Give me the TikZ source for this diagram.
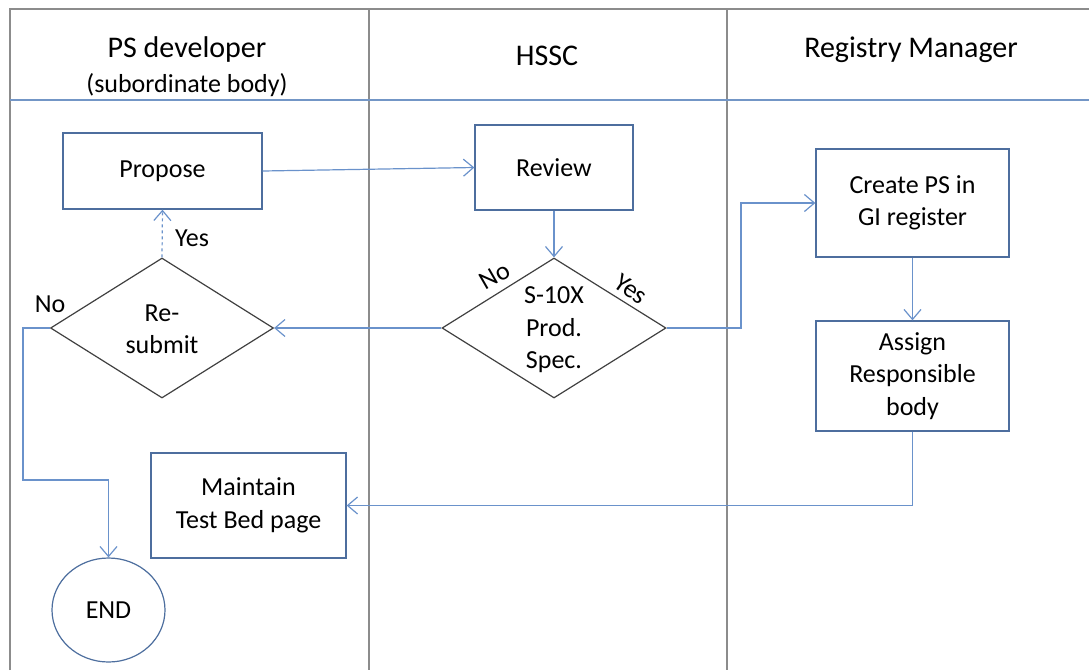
\documentclass[tikz,border=0pt]{standalone}
\usepackage{fontspec}
\setmainfont{Carlito}
\usetikzlibrary{shapes.geometric,arrows.meta}
\definecolor{boxc}{HTML}{4D6E9E}
\definecolor{linkc}{HTML}{6A92CB}
\definecolor{lanec}{HTML}{8C8C8C}
\definecolor{hdrc}{HTML}{7396C6}
\definecolor{diac}{HTML}{404040}
\begin{document}
\begin{tikzpicture}[x=1pt,y=-1pt,
  every node/.style={font=\fontsize{26}{32.5}\selectfont, text=black},
  hdr/.style={font=\fontsize{30}{36}\selectfont},
  box/.style={draw=boxc, line width=1.3pt, align=center, inner sep=0pt},
  dec/.style={draw=diac, line width=1.2pt, shape=diamond, inner sep=0pt},
  endc/.style={draw=boxc, line width=1.2pt, shape=ellipse, inner sep=0pt},
  link/.style={draw=linkc, line width=1.2pt, -{Straight Barb[length=10pt,width=17pt,line width=1.2pt]}},
  lane/.style={draw=lanec, line width=1.3pt},
  lbl/.style={inner sep=0pt}]
\useasboundingbox (0,0) rectangle (1089,670);
% swimlanes
\draw[lane] (10,670) -- (10,9) -- (1089,9);
\draw[lane] (369,9) -- (369,670);
\draw[lane] (727,9) -- (727,670);
\draw[draw=hdrc, line width=1.3pt] (10,100) -- (1089,100);
\node[hdr] (h1) at (187,49) {PS developer};
\node (h1b) at (187,85) {(subordinate body)};
\node[hdr] (h2) at (547,56) {HSSC};
\node[hdr] (h3) at (911,49.5) {Registry Manager};
% nodes
\node[box, minimum width=199pt, minimum height=76pt] (propose) at (162.5,171) {Propose};
\node[box, minimum width=158pt, minimum height=85pt] (review) at (554,167.5) {Review};
\node[box, minimum width=193pt, minimum height=108pt] (create) at (912.5,203) {Create PS in\\GI register};
\node[box, minimum width=193pt, minimum height=110pt] (assign) at (912.5,376) {Assign\\Responsible\\body};
\node[box, minimum width=195pt, minimum height=105pt] (maint) at (248.5,505.5) {Maintain\\Test Bed page};
\node[endc, minimum width=113pt, minimum height=104pt] (endn) at (108.5,610) {END};
\node[dec, minimum width=223pt, minimum height=140pt] (resub) at (162,328) {};
\node[align=center] (resubt) at (162,329) {Re-\\submit};
\node[dec, minimum width=224pt, minimum height=140pt] (spec) at (554,328) {};
\node[align=center] (spect) at (554,330) {S-10X\\Prod.\\Spec.};
% helper coordinates
\coordinate (nobend) at (23,480);
\coordinate (yesbend) at (741,265);
% connectors
\draw[link] (propose.east) -- (review.west);
\draw[link] (review.south) -- (spec.north);
\draw[link] (spec.west) -- (resub.east);
\draw[link, dashed] (resub.north) -- (propose.south);
\draw[link] (resub.west) -| (nobend) -| (endn.north);
\draw[link] (spec.east) -| (yesbend) |- (create.west);
\draw[link] (create.south) -- (assign.north);
\draw[link] (assign.south) |- (maint.east);
% labels
\node[lbl] (lyes1) at (192,238) {Yes};
\node[lbl] (lno1) at (50,304) {No};
\node[lbl, rotate=30] (lno2) at (495,276) {No};
\node[lbl, rotate=-35] (lyes2) at (631,289) {Yes};
\end{tikzpicture}
\end{document}
